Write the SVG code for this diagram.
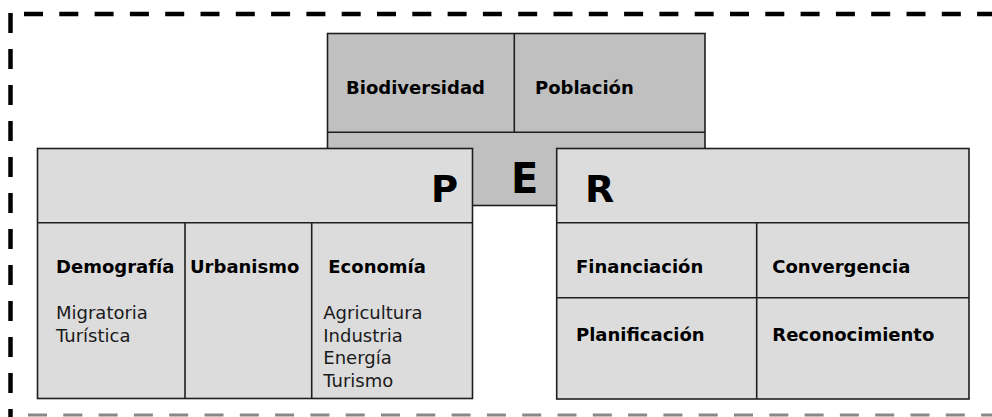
<svg xmlns="http://www.w3.org/2000/svg" width="992" height="417" viewBox="0 0 992 417">
<style>
.box{stroke:#1e1e1e;stroke-width:1.6}
.e{fill:#c0c0c0}
.l{fill:#dcdcdc}
.div{stroke:#1e1e1e;stroke-width:1.6;fill:none}
.h{font-family:"DejaVu Sans",Verdana,sans-serif;font-weight:bold;font-size:18px;fill:#000}
.t{font-family:"DejaVu Sans",Verdana,sans-serif;font-size:18px;fill:#1a1a1a}
.big{font-family:"DejaVu Sans",Verdana,sans-serif;font-weight:bold;fill:#000}
</style>
<rect width="992" height="417" fill="#fff"/>
<g id="frame" fill="none">
<line x1="24" y1="14" x2="992" y2="14" stroke="#000" stroke-width="4.5" stroke-dasharray="19 16.3"/>
<line x1="10.5" y1="13" x2="10.5" y2="417" stroke="#000" stroke-width="4.5" stroke-dasharray="20 16"/>
<line x1="28" y1="415" x2="992" y2="415" stroke="#888" stroke-width="3" stroke-dasharray="19 16.3"/>
</g>
<g id="E">
<rect class="box e" x="327.5" y="33.5" width="377.5" height="172"/>
<line class="div" x1="327.5" y1="132.3" x2="705" y2="132.3"/>
<line class="div" x1="514.3" y1="33.5" x2="514.3" y2="132.3"/>
<text class="h" x="346" y="94">Biodiversidad</text>
<text class="h" x="535" y="94">Población</text>
<text class="big" x="511" y="192.7" font-size="40" transform="translate(511 192.7) scale(1 1.08) translate(-511 -192.7)">E</text>
</g>
<g id="P">
<rect class="box l" x="37.5" y="148.5" width="435" height="250"/>
<line class="div" x1="37.5" y1="222.7" x2="472.5" y2="222.7"/>
<line class="div" x1="185" y1="222.7" x2="185" y2="398.5"/>
<line class="div" x1="311.7" y1="222.7" x2="311.7" y2="398.5"/>
<text class="big" x="431" y="201.7" font-size="37">P</text>
<text class="h" x="56" y="273.3">Demografía</text>
<text class="h" x="190" y="273.3">Urbanismo</text>
<text class="h" x="328.3" y="273.3">Economía</text>
<text class="t" x="56" y="319">Migratoria</text>
<text class="t" x="56" y="341.7">Turística</text>
<text class="t" x="323.3" y="319">Agricultura</text>
<text class="t" x="323.3" y="341.7">Industria</text>
<text class="t" x="323.3" y="364.3">Energía</text>
<text class="t" x="323.3" y="387">Turismo</text>
</g>
<g id="R">
<rect class="box l" x="556.7" y="148.5" width="412.3" height="250.5"/>
<line class="div" x1="556.7" y1="222.7" x2="969" y2="222.7"/>
<line class="div" x1="556.7" y1="297.7" x2="969" y2="297.7"/>
<line class="div" x1="756.7" y1="222.7" x2="756.7" y2="399"/>
<text class="big" x="585" y="202" font-size="38">R</text>
<text class="h" x="576" y="273.3">Financiación</text>
<text class="h" x="772.3" y="273.3">Convergencia</text>
<text class="h" x="576" y="341">Planificación</text>
<text class="h" x="772.3" y="341">Reconocimiento</text>
</g>
<g id="connectors"></g>
</svg>
